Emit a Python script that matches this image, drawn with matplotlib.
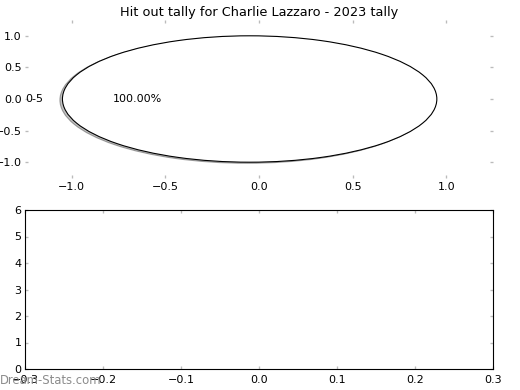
import matplotlib
matplotlib.use("Agg")
from matplotlib import pyplot as plt

# data
labels = ["0-5"]
sizes = [1]
explode = [0.05]
title = "Hit out tally for Charlie Lazzaro - 2023 tally"

W, H = 520, 390
fig = plt.figure(figsize=(6.5, 4.875), dpi=80)

tick_color = "#bbbbbb"


def style_ticks(ax):
    ax.tick_params(direction="in", length=3, width=1.2, color=tick_color,
                   top=True, right=True, labelsize=10, labelcolor="black", pad=5)
    ax.tick_params(axis="y", pad=3)


# top: pie
ax1 = fig.add_axes([25 / W, 1 - 178 / H, 468 / W, 158 / H])
ax1.pie(sizes, labels=labels, explode=explode, autopct="%1.2f%%",
        shadow={"ox": -0.012, "oy": -0.015, "facecolor": "#888888"},
        colors=["white"],
        wedgeprops={"edgecolor": "black", "linewidth": 1},
        textprops={"fontsize": 10})
ax1.set_aspect("auto")
ax1.set_frame_on(False)
ax1.set_xlim(-1.25, 1.25)
ax1.set_ylim(-1.25, 1.25)
ax1.set_xticks([-1.0, -0.5, 0.0, 0.5, 1.0])
ax1.set_yticks([-1.0, -0.5, 0.0, 0.5, 1.0])
style_ticks(ax1)
ax1.tick_params(axis="x", pad=4)
ax1.set_title(title, fontsize=11.6, pad=4)

# bottom: empty axes
ax2 = fig.add_axes([25 / W, 1 - 369 / H, 468 / W, 159 / H])
ax2.set_xlim(-0.3, 0.3)
ax2.set_ylim(0, 6)
ax2.set_xticks([-0.3, -0.2, -0.1, 0.0, 0.1, 0.2, 0.3])
ax2.set_yticks([0, 1, 2, 3, 4, 5, 6])
for s in ax2.spines.values():
    s.set_linewidth(1)
style_ticks(ax2)

fig.text(0, 3 / H, "Dream-Stats.com", fontsize=10.5, color="#8c8c8c",
         ha="left", va="bottom")

fig.savefig("out.png", dpi=80)
